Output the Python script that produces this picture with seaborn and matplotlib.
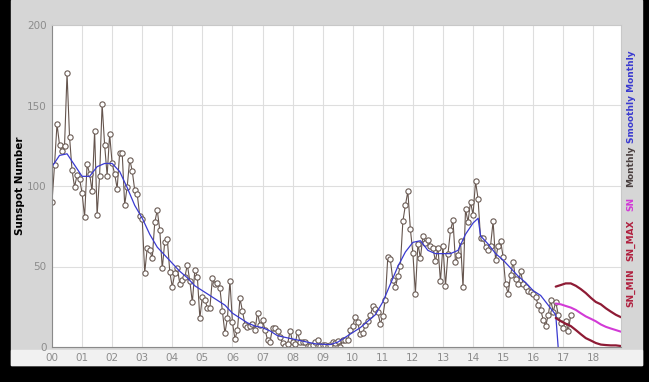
import numpy as np
import matplotlib
matplotlib.use("Agg")
import matplotlib.pyplot as plt
from matplotlib.patches import Rectangle
import seaborn as sns

# monthly sunspot number, one list per year (2017 partial)
sn_2000 = [90.1, 112.9, 138.5, 125.5, 121.6, 124.9, 170.1, 130.5, 109.7, 99.4, 106.8, 104.4]
sn_2001 = [95.6, 80.6, 113.5, 107.7, 96.6, 134.0, 81.8, 106.4, 150.7, 125.5, 106.5, 132.2]
sn_2002 = [114.1, 107.4, 98.4, 120.7, 120.8, 88.3, 99.6, 116.4, 109.6, 97.5, 95.0, 81.6]
sn_2003 = [79.5, 46.2, 61.5, 60.0, 55.2, 77.4, 85.0, 72.7, 48.8, 65.5, 67.3, 46.5]
sn_2004 = [37.3, 45.8, 49.1, 39.3, 41.5, 43.2, 51.1, 40.9, 27.7, 48.0, 43.5, 17.9]
sn_2005 = [31.3, 29.2, 24.5, 24.2, 42.7, 39.3, 40.0, 36.4, 22.1, 8.5, 18.0, 41.2]
sn_2006 = [15.3, 4.9, 10.6, 30.2, 22.3, 13.9, 12.2, 12.9, 14.4, 10.5, 21.4, 13.6]
sn_2007 = [16.8, 10.7, 4.5, 3.4, 11.7, 12.1, 9.7, 6.0, 2.4, 0.9, 1.7, 10.1]
sn_2008 = [3.3, 2.1, 9.3, 2.9, 2.9, 3.1, 0.5, 0.5, 1.1, 2.9, 4.1, 0.8]
sn_2009 = [1.5, 1.4, 0.7, 1.2, 2.9, 2.6, 3.5, 0.0, 4.2, 4.6, 4.2, 10.6]
sn_2010 = [13.1, 18.6, 15.4, 7.9, 8.8, 13.5, 16.1, 19.6, 25.2, 23.5, 21.6, 14.5]
sn_2011 = [19.0, 29.4, 56.2, 54.4, 41.6, 37.0, 43.9, 50.6, 78.0, 88.0, 96.7, 73.0]
sn_2012 = [58.3, 33.1, 64.2, 55.2, 69.0, 64.5, 66.5, 63.0, 61.4, 53.3, 61.8, 40.8]
sn_2013 = [62.9, 38.0, 57.9, 72.4, 78.7, 52.5, 57.0, 66.0, 37.0, 85.6, 77.6, 90.3]
sn_2014 = [82.0, 102.8, 92.2, 67.5, 67.5, 62.0, 60.0, 63.0, 78.0, 54.0, 63.0, 66.0]
sn_2015 = [56.0, 39.0, 33.0, 45.0, 53.0, 42.0, 39.0, 47.0, 39.0, 37.0, 35.0, 34.0]
sn_2016 = [33.0, 31.0, 26.0, 23.0, 17.0, 13.0, 20.0, 29.0, 22.0, 28.0, 20.0, 15.0]
sn_2017 = [12.0, 16.0, 10.0, 20.0]

monthly = (sn_2000 + sn_2001 + sn_2002 + sn_2003 + sn_2004 + sn_2005 + sn_2006
           + sn_2007 + sn_2008 + sn_2009 + sn_2010 + sn_2011 + sn_2012 + sn_2013
           + sn_2014 + sn_2015 + sn_2016 + sn_2017)
monthly_years = 2000 + np.arange(len(monthly)) / 12

# smoothed monthly (read off roughly every quarter)
smooth_years = [2000.00, 2000.25, 2000.50, 2000.75, 2001.00, 2001.25, 2001.50, 2001.75,
                2002.00, 2002.25, 2002.50, 2002.75, 2003.00, 2003.25, 2003.50, 2003.75,
                2004.00, 2004.25, 2004.50, 2004.75, 2005.00, 2005.25, 2005.50, 2005.75,
                2006.00, 2006.25, 2006.50, 2006.75, 2007.00, 2007.25, 2007.50, 2007.75,
                2008.00, 2008.25, 2008.50, 2008.75, 2009.00, 2009.25, 2009.50, 2009.75,
                2010.00, 2010.25, 2010.50, 2010.75, 2011.00, 2011.25, 2011.50, 2011.75,
                2012.00, 2012.25, 2012.50, 2012.75, 2013.00, 2013.25, 2013.50, 2013.75,
                2014.00, 2014.17, 2014.25, 2014.50, 2014.75, 2015.00, 2015.25, 2015.50,
                2015.75, 2016.00, 2016.25, 2016.50, 2016.75, 2016.83]
smooth_vals = [112, 119, 120, 113, 106, 106, 112, 114,
               114, 109, 99, 88, 80, 70, 62, 57,
               52, 47, 43, 38, 35, 32, 29, 26,
               21, 18, 15, 13, 12, 10, 7, 6,
               5, 4, 3, 2, 1.7, 1.5, 3, 6,
               9, 12, 16, 20, 28, 39, 50, 59,
               65, 66, 60, 58, 58, 58, 60, 70,
               77, 80, 69, 64, 58, 54, 49, 44,
               40, 35, 32, 26, 20, 0]

# predictions, every two months
pred_years = [2016.75, 2016.92, 2017.08, 2017.25, 2017.42, 2017.58, 2017.75,
              2017.92, 2018.08, 2018.25, 2018.42, 2018.58, 2018.75, 2018.92]
sn_max = [37.5, 38.5, 39.5, 39.5, 38, 36, 33.5, 30.5, 28, 26.5, 24, 22, 20, 18.5]
sn_pred = [27, 26.5, 25.5, 24.5, 23, 21, 19, 17.5, 16, 14, 12.5, 11.5, 10.5, 9.5]
sn_min = [18, 16, 14.5, 13, 10.5, 8, 5.5, 4, 2.5, 1.5, 1.2, 1, 1, 0.6]

year_ticks = list(range(2000, 2019))
year_labels = [f"{y % 100:02d}" for y in year_ticks]

sns.set_style("white")
fig = plt.figure(figsize=(6.49, 3.82), dpi=100, facecolor="black")
# gray panel and lighter strip under the axis, behind everything
fig.patches.append(Rectangle((11 / 649, 17 / 382), 631 / 649, 365 / 382,
                             transform=fig.transFigure, color="#d6d6d6", zorder=-10))
fig.patches.append(Rectangle((11 / 649, 17 / 382), 631 / 649, 15 / 382,
                             transform=fig.transFigure, color="#f1f1f1", zorder=-9))

ax = fig.add_axes([52 / 649, 35 / 382, 569 / 649, 322 / 382])
ax.set_facecolor("white")

sns.lineplot(x=monthly_years, y=monthly, ax=ax, color="#65554e", linewidth=0.8,
             marker="o", markersize=3.8, markerfacecolor="white",
             markeredgecolor="#6a5b54", markeredgewidth=0.8, sort=False)
sns.lineplot(x=smooth_years, y=smooth_vals, ax=ax, color="#3a3ad0", linewidth=0.9, sort=False)
sns.lineplot(x=pred_years, y=sn_max, ax=ax, color="#8e1b35", linewidth=1.6)
sns.lineplot(x=pred_years, y=sn_pred, ax=ax, color="#d23ad6", linewidth=1.5)
sns.lineplot(x=pred_years, y=sn_min, ax=ax, color="#8e1b35", linewidth=1.6)

ax.set_xlim(2000, 2018.92)
ax.set_ylim(0, 200)
ax.set_xticks(year_ticks)
ax.set_xticklabels(year_labels)
ax.set_yticks([0, 50, 100, 150, 200])
ax.grid(True, color="#dedede", linewidth=0.8)
ax.tick_params(length=0, labelsize=7.5, labelcolor="#8c8c8c", pad=4)
for side in ["left", "bottom"]:
    ax.spines[side].set_color("#8a8a8a")
for side in ["top", "right"]:
    ax.spines[side].set_color("#c8c8c8")

ax.set_xlabel("")
ax.set_ylabel("Sunspot Number", fontsize=7.5, fontweight="bold", color="black")
ax.yaxis.set_label_coords(-0.048, 0.5)

legend_items = [("Smoothly Monthly", "#3a3ad0", 97), ("Monthly", "#4a4040", 166),
                ("SN", "#d23ad6", 204), ("SN_MAX", "#b0203f", 240), ("SN_MIN", "#b0203f", 288)]
for label, col, ypix in legend_items:
    fig.text(631 / 649, 1 - ypix / 382, label, rotation=90, color=col, fontsize=6.5,
             fontweight="bold", ha="center", va="center")

fig.savefig("out.png", dpi=100, facecolor=fig.get_facecolor())
